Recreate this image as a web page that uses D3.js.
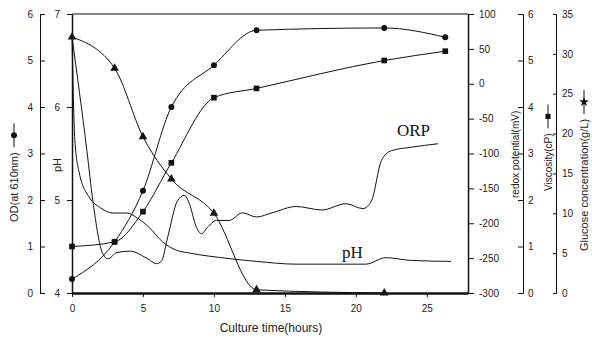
<!DOCTYPE html>
<html>
<head>
<meta charset="utf-8">
<script src="https://cdn.jsdelivr.net/npm/d3@7"></script>
<style>
  body { margin: 0; background: #fff; }
  svg { display: block; font-family: "Liberation Sans", Arial, sans-serif; }
  .axis text { font-size: 10px; fill: #222; }
  .axis path, .axis line { stroke: #111; }
  .axis-title { font-size: 11px; fill: #222; }
  .curve-label { font-family: "Liberation Serif", "Times New Roman", serif; font-size: 17px; fill: #111; }
  .series { fill: none; stroke: #111; stroke-width: 1; }
</style>
</head>
<body>
<svg id="chart"></svg>
<script>
// off-line samples (hours)
const sampleTimes = [0, 3, 5, 7, 10, 13, 22, 26.3];
const odValues = [0.3, 1.1, 2.2, 4.0, 4.9, 5.65, 5.7, 5.5];
const viscosityValues = [1.0, 1.1, 1.75, 2.8, 4.2, 4.4, 5.0, 5.2];
const glucoseTimes = [0, 3, 5, 7, 10, 13, 22];
const glucoseValues = [32.1, 28.2, 19.6, 14.3, 10.0, 0.4, 0];

// on-line probes
const orpTimes = [0, 1.05, 1.47, 2.17, 2.52, 3.16, 4.07, 5.26, 5.96, 6.31, 6.73, 7.43, 7.92, 8.27, 8.77,
  9.12, 9.54, 10.17, 11.08, 12, 13, 14.1, 15.8, 17.6, 19.3, 20.5, 21.1, 21.8, 22.5, 23.9, 25.8];
const orpValues = [67, -96, -168, -244, -251, -242, -240, -250, -258, -254, -221, -168, -160, -172, -206,
  -215, -206, -196, -196, -185, -191, -185, -176, -181, -172, -179, -168, -110, -96, -91, -86];
const phTimes = [0, 0.2, 0.5, 1.26, 1.96, 2.88, 3.86, 4.56, 5.47, 6.38, 7.36, 8.27, 11.08, 13, 15.8,
  18.8, 20.7, 22.1, 23.9, 26.7];
const phValues = [6.75, 5.65, 5.3, 5.02, 4.92, 4.86, 4.86, 4.81, 4.70, 4.55, 4.46, 4.43, 4.37, 4.34, 4.31,
  4.31, 4.31, 4.38, 4.35, 4.34];

// tick labels
const xTicks = [0, 5, 10, 15, 20, 25];
const odTicks = [0, 1, 2, 3, 4, 5, 6];
const phTicks = [4, 5, 6, 7];
const redoxTicks = [-300, -250, -200, -150, -100, -50, 0, 50, 100];
const viscTicks = [0, 1, 2, 3, 4, 5, 6];
const glucoseTicks = [0, 5, 10, 15, 20, 25, 30, 35];

const width = 592, height = 347;
const plot = {left: 72, right: 468, top: 14, bottom: 293};
const plain = d => String(d);   // hyphen minus, no decimals

const svg = d3.select('#chart').attr('width', width).attr('height', height);

// scales
const xScale = d3.scaleLinear().domain([0, 27.9]).range([plot.left, plot.right]);
const odScale = d3.scaleLinear().domain([0, 6]).range([plot.bottom, plot.top]);
const phScale = d3.scaleLinear().domain([4, 7]).range([plot.bottom, plot.top]);
const redoxScale = d3.scaleLinear().domain([-300, 100]).range([plot.bottom, plot.top]);
const viscScale = d3.scaleLinear().domain([0, 6]).range([plot.bottom, plot.top]);
const glucoseScale = d3.scaleLinear().domain([0, 35]).range([plot.bottom, plot.top]);

// axes
const xAxisG = svg.append('g')
    .attr('class', 'axis x-axis')
    .attr('transform', `translate(0,${plot.bottom})`)
    .call(d3.axisBottom(xScale).tickValues(xTicks).tickFormat(plain)
      .tickSize(4).tickSizeOuter(0).tickPadding(8));
xAxisG.select('.domain').attr('stroke-width', 2.5);

// OD axis: ticks point right, labels on the left
svg.append('g')
    .attr('class', 'axis od-axis')
    .attr('transform', 'translate(40,0)')
    .call(d3.axisLeft(odScale).tickValues(odTicks).tickFormat(plain)
      .tickSizeInner(-5).tickSizeOuter(-5).tickPadding(7));

const phAxisG = svg.append('g')
    .attr('class', 'axis ph-axis')
    .attr('transform', `translate(${plot.left},0)`)
    .call(d3.axisLeft(phScale).tickValues(phTicks).tickFormat(plain)
      .tickSize(5).tickSizeOuter(0).tickPadding(7));
phAxisG.select('.domain').attr('stroke-width', 1.5);

const redoxAxisG = svg.append('g')
    .attr('class', 'axis redox-axis')
    .attr('transform', `translate(${plot.right},0)`)
    .call(d3.axisRight(redoxScale).tickValues(redoxTicks).tickFormat(plain)
      .tickSize(6).tickSizeOuter(0).tickPadding(5));
redoxAxisG.select('.domain').attr('stroke-width', 1.5);

svg.append('g')
    .attr('class', 'axis visc-axis')
    .attr('transform', 'translate(523,0)')
    .call(d3.axisRight(viscScale).tickValues(viscTicks).tickFormat(plain)
      .tickSizeInner(-5).tickSizeOuter(-5).tickPadding(5));

svg.append('g')
    .attr('class', 'axis glucose-axis')
    .attr('transform', 'translate(556,0)')
    .call(d3.axisRight(glucoseScale).tickValues(glucoseTicks).tickFormat(plain)
      .tickSizeInner(-3).tickSizeOuter(-3).tickPadding(6));

// top frame line
svg.append('line')
    .attr('x1', plot.left).attr('x2', plot.right)
    .attr('y1', plot.top).attr('y2', plot.top)
    .attr('stroke', '#111').attr('stroke-width', 1.2);

// axis titles (rotated, with legend glyph)
function rotatedTitle(x, y, label, size, glyph, anchor) {
  const g = svg.append('g').attr('transform', `translate(${x},${y}) rotate(-90)`);
  const t = g.append('text')
      .attr('class', 'axis-title')
      .attr('dy', '0.35em')
      .style('font-size', size + 'px')
      .style('text-anchor', anchor || 'start')
      .text(label);
  if (glyph) {
    const w = t.node().getComputedTextLength();
    g.append('line')
        .attr('x1', w + 5).attr('x2', w + 29)
        .attr('y1', 0).attr('y2', 0)
        .attr('stroke', '#111');
    g.append('path')
        .attr('d', d3.symbol(glyph.type, glyph.size)())
        .attr('transform', `translate(${w + 17},0) rotate(90)`)
        .attr('fill', '#111');
  }
}
rotatedTitle(14, 222, 'OD(at 610nm)', 11, {type: d3.symbolCircle, size: 28});
rotatedTitle(57, 165, 'pH', 11, null, 'middle');
rotatedTitle(515, 198, 'redox potential(mV)', 10);
rotatedTitle(548, 191, 'Viscosity(cP)', 10, {type: d3.symbolSquare, size: 26});
rotatedTitle(584, 251, 'Glucose concentration(g/L)', 11, {type: d3.symbolStar, size: 30});

svg.append('text')
    .attr('class', 'axis-title')
    .attr('x', 271).attr('y', 332)
    .style('text-anchor', 'middle')
    .style('font-size', '12px')
    .text('Culture time(hours)');

// series
const odData = sampleTimes.map((t, i) => ({t: t, v: odValues[i]}));
const viscData = sampleTimes.map((t, i) => ({t: t, v: viscosityValues[i]}));
const glucoseData = glucoseTimes.map((t, i) => ({t: t, v: glucoseValues[i]}));
const orpData = orpTimes.map((t, i) => ({t: t, v: orpValues[i]}));
const phData = phTimes.map((t, i) => ({t: t, v: phValues[i]}));

function drawLine(data, yScale) {
  const line = d3.line()
      .x(d => xScale(d.t))
      .y(d => yScale(d.v))
      .curve(d3.curveMonotoneX);
  svg.append('path').datum(data).attr('class', 'series').attr('d', line);
}

drawLine(orpData, redoxScale);
drawLine(phData, phScale);
drawLine(glucoseData, glucoseScale);
drawLine(odData, odScale);
drawLine(viscData, viscScale);

function drawMarkers(data, yScale, type, size) {
  svg.append('g').selectAll('path')
      .data(data)
    .join('path')
      .attr('d', d3.symbol(type, size)())
      .attr('transform', d => `translate(${xScale(d.t)},${yScale(d.v)})`)
      .attr('fill', '#111');
}

drawMarkers(glucoseData, glucoseScale, d3.symbolTriangle, 32);
drawMarkers(odData, odScale, d3.symbolCircle, 28);
drawMarkers(viscData, viscScale, d3.symbolSquare, 32);

// curve labels
svg.append('text').attr('class', 'curve-label').attr('x', 397).attr('y', 136).text('ORP');
svg.append('text').attr('class', 'curve-label').attr('x', 342).attr('y', 258).text('pH');
</script>
</body>
</html>
